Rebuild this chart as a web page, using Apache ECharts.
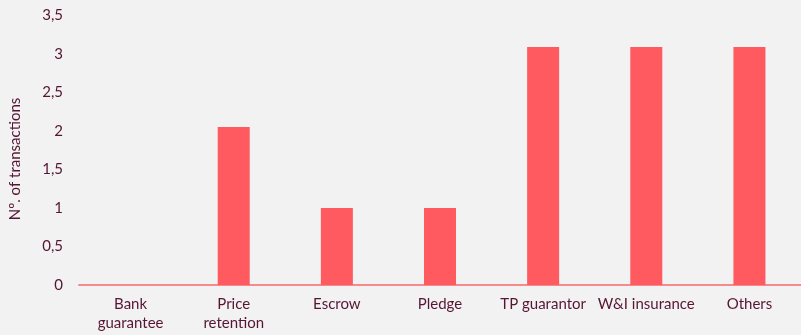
<!DOCTYPE html>
<html>
<head>
<meta charset="utf-8">
<script src="https://cdn.jsdelivr.net/npm/echarts@6/dist/echarts.min.js"></script>
<style>
html,body{margin:0;padding:0;background:#f2f2f2;}
#c{width:801px;height:335px;}
</style>
</head>
<body>
<div id="c"></div>
<script>
const categories = ["Bank\nguarantee", "Price\nretention", "Escrow", "Pledge", "TP guarantor", "W&I insurance", "Others"];
const values = [0, 2.05, 1, 1, 3.09, 3.09, 3.09];
const yTicks = [0, 0.5, 1, 1.5, 2, 2.5, 3, 3.5];
const yAxisTitle = "Nº. of transactions";

const textColor = "#561532";
const chart = echarts.init(document.getElementById('c'), null, {renderer: 'canvas'});
chart.setOption({
  backgroundColor: '#f2f2f2',
  animation: false,
  grid: {left: 79, right: 0, top: 15.3, bottom: 50},
  xAxis: {
    type: 'category',
    data: categories,
    axisLine: {show: true, lineStyle: {color: '#f58a8c', width: 2}},
    axisTick: {show: false},
    axisLabel: {color: textColor, fontFamily: 'Lato', fontSize: 15, margin: 10, lineHeight: 19, interval: 0}
  },
  yAxis: {
    type: 'value',
    min: 0,
    max: 3.5,
    interval: 0.5,
    splitLine: {show: false},
    axisLine: {show: false},
    axisTick: {show: false},
    axisLabel: {
      color: textColor, fontFamily: 'Lato', fontSize: 15, margin: 16,
      padding: [0, 0, 3, 0],
      formatter: v => yTicks.indexOf(v) >= 0 ? String(v).replace('.', ',') : ''
    }
  },
  graphic: [{
    type: 'text',
    x: 8, y: 159,
    rotation: Math.PI / 2,
    style: {text: yAxisTitle, fill: textColor, font: '15px Lato', align: 'center', verticalAlign: 'top'}
  }],
  series: [{
    type: 'bar',
    data: values,
    barWidth: 32,
    itemStyle: {color: '#ff5a5f'}
  }]
});
</script>
</body>
</html>
